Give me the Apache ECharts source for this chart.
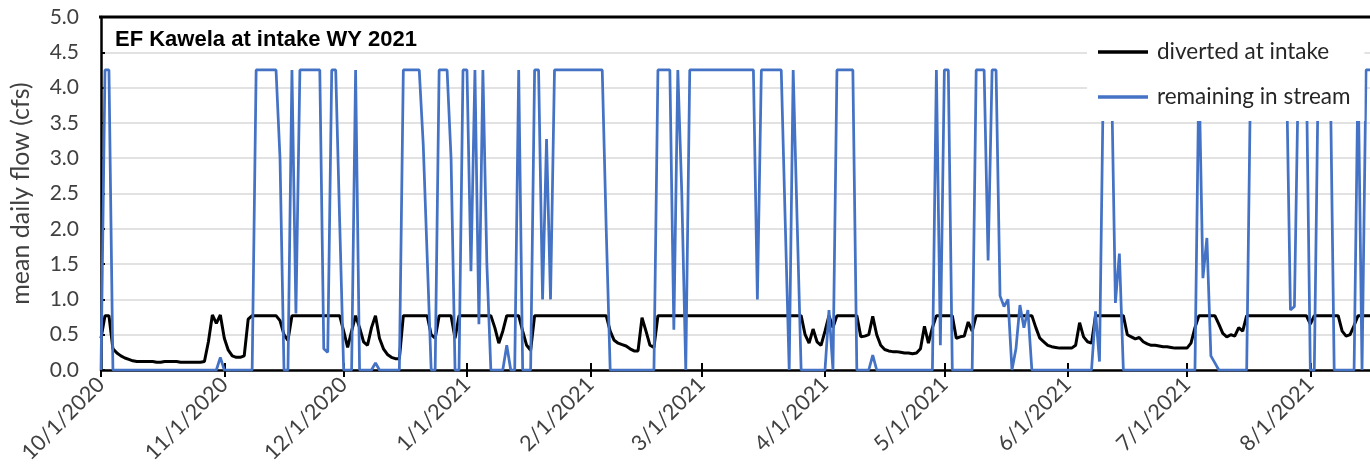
<!DOCTYPE html>
<html>
<head>
<meta charset="utf-8">
<script src="https://cdn.jsdelivr.net/npm/echarts@6/dist/echarts.min.js"></script>
<style>
html,body{margin:0;padding:0;background:#fff;}
#c{width:1370px;height:476px;}
</style>
</head>
<body>
<div id="c"></div>
<script>
const titleText = 'EF Kawela at intake WY 2021';
const yAxisName = 'mean daily flow (cfs)';
const seriesNames = ['diverted at intake', 'remaining in stream'];
const monthTicks = ['10/1/2020','11/1/2020','12/1/2020','1/1/2021','2/1/2021','3/1/2021',
                    '4/1/2021','5/1/2021','6/1/2021','7/1/2021','8/1/2021'];
const firstDay = [2020, 10, 1];   // year, month, day of the first daily value
const dayCount = 320;

// mean daily flow diverted at intake (cfs), one value per day from 10/1/2020
const diverted = [
  0.45,0.77,0.77,0.3,0.24,0.2,0.17,0.15,0.13,0.12,
  0.12,0.12,0.12,0.12,0.11,0.11,0.12,0.12,0.12,0.12,
  0.11,0.11,0.11,0.11,0.11,0.11,0.12,0.4,0.78,0.66,
  0.78,0.45,0.28,0.2,0.18,0.18,0.2,0.72,0.77,0.77,
  0.77,0.77,0.77,0.77,0.77,0.7,0.5,0.42,0.77,0.77,
  0.77,0.77,0.77,0.77,0.77,0.77,0.77,0.77,0.77,0.77,
  0.77,0.55,0.32,0.55,0.77,0.6,0.4,0.35,0.6,0.77,
  0.45,0.3,0.22,0.18,0.16,0.16,0.77,0.77,0.77,0.77,
  0.77,0.77,0.77,0.5,0.45,0.77,0.77,0.77,0.77,0.45,
  0.77,0.77,0.77,0.77,0.77,0.77,0.77,0.77,0.77,0.6,
  0.38,0.55,0.77,0.77,0.77,0.77,0.55,0.35,0.28,0.77,
  0.77,0.77,0.77,0.77,0.77,0.77,0.77,0.77,0.77,0.77,
  0.77,0.77,0.77,0.77,0.77,0.77,0.77,0.77,0.55,0.42,
  0.38,0.36,0.34,0.3,0.27,0.27,0.74,0.55,0.35,0.32,
  0.77,0.77,0.77,0.77,0.77,0.77,0.77,0.77,0.77,0.77,
  0.77,0.77,0.77,0.77,0.77,0.77,0.77,0.77,0.77,0.77,
  0.77,0.77,0.77,0.77,0.77,0.77,0.77,0.77,0.77,0.77,
  0.77,0.77,0.77,0.77,0.77,0.77,0.77,0.5,0.38,0.58,
  0.4,0.35,0.55,0.77,0.6,0.77,0.77,0.77,0.77,0.77,
  0.77,0.47,0.48,0.5,0.76,0.5,0.35,0.29,0.27,0.26,
  0.26,0.25,0.24,0.24,0.23,0.24,0.3,0.62,0.38,0.6,
  0.77,0.77,0.77,0.77,0.77,0.45,0.47,0.48,0.68,0.55,
  0.77,0.77,0.77,0.77,0.77,0.77,0.77,0.77,0.77,0.77,
  0.77,0.77,0.77,0.77,0.77,0.6,0.45,0.4,0.35,0.33,
  0.32,0.31,0.31,0.31,0.31,0.35,0.67,0.47,0.4,0.38,
  0.77,0.77,0.77,0.77,0.77,0.77,0.77,0.77,0.5,0.47,
  0.44,0.46,0.4,0.37,0.35,0.35,0.34,0.33,0.33,0.32,
  0.31,0.31,0.31,0.31,0.38,0.6,0.77,0.77,0.77,0.77,
  0.77,0.65,0.52,0.47,0.5,0.48,0.6,0.55,0.77,0.77,
  0.77,0.77,0.77,0.77,0.77,0.77,0.77,0.77,0.77,0.77,
  0.77,0.77,0.77,0.77,0.65,0.77,0.77,0.77,0.77,0.77,
  0.77,0.77,0.55,0.48,0.5,0.63,0.77,0.77,0.77,0.77
];

// mean daily flow remaining in stream (cfs)
const remaining = [
  0,4.25,4.25,0,0,0,0,0,0,0,
  0,0,0,0,0,0,0,0,0,0,
  0,0,0,0,0,0,0,0,0,0,
  0.18,0,0,0,0,0,0,0,0,4.25,
  4.25,4.25,4.25,4.25,4.25,3.0,0,0,4.25,0.8,
  4.25,4.25,4.25,4.25,4.25,4.25,0.3,0.25,4.25,4.25,
  2.1,0,0,0,4.25,0,0,0,0,0.1,
  0,0,0,0,0,0,4.25,4.25,4.25,4.25,
  4.25,3.2,1.6,0,0,4.25,4.25,4.25,3.0,0,
  0,4.25,4.25,1.4,4.25,0.65,4.25,1.5,0,0,
  0,0,0.35,0,0,4.25,0,0,0,4.25,
  4.25,1.0,3.27,1.0,4.25,4.25,4.25,4.25,4.25,4.25,
  4.25,4.25,4.25,4.25,4.25,4.25,4.25,2.0,0,0,
  0,0,0,0,0,0,0,0,0,0,
  4.25,4.25,4.25,4.25,0.57,4.25,2.5,0,4.25,4.25,
  4.25,4.25,4.25,4.25,4.25,4.25,4.25,4.25,4.25,4.25,
  4.25,4.25,4.25,4.25,4.25,1.0,4.25,4.25,4.25,4.25,
  4.25,4.25,2.1,0,4.25,2.1,0,0,0,0,
  0,0,0,0.85,0,4.25,4.25,4.25,4.25,4.25,
  0,0,0,0,0.21,0,0,0,0,0,
  0,0,0,0,0,0,0,0,0,0,
  4.25,0.35,4.25,4.25,0,0,0,0,0,0,
  4.25,4.25,4.25,1.55,4.25,4.25,1.05,0.9,1.0,0,
  0.3,0.92,0.6,0.85,0,0,0,0,0,0,
  0,0,0,0,0,0,0,0,0,0,
  0.83,0.12,4.25,4.25,4.25,0.95,1.65,0,0,0,
  0,0,0,0,0,0,0,0,0,0,
  0,0,0,0,0,0,4.25,1.3,1.87,0.2,
  0.1,0,0,0,0,0,0,0,0,4.25,
  4.25,4.25,4.25,4.25,4.25,4.25,4.25,4.25,4.25,0.85,
  0.9,4.25,4.25,4.25,0,0,4.25,4.25,4.25,4.25,
  0,0,0,0,0,0,4.25,0,4.25,4.25
];

const categories = [];
for (let i = 0; i < dayCount; i++) {
  const d = new Date(Date.UTC(firstDay[0], firstDay[1] - 1, firstDay[2] + i));
  categories.push((d.getUTCMonth() + 1) + '/' + d.getUTCDate() + '/' + d.getUTCFullYear());
}
const isMonthTick = function (index, value) { return monthTicks.indexOf(value) >= 0; };

const chart = echarts.init(document.getElementById('c'), null, {renderer: 'canvas'});
chart.setOption({
  animation: false,
  backgroundColor: '#ffffff',
  textStyle: {fontFamily: 'Lato'},
  title: {
    text: titleText, left: 115, top: 29, padding: 0,
    textStyle: {fontFamily: 'Liberation Sans', fontWeight: 'bold', fontSize: 22, color: '#000'}
  },
  legend: {
    orient: 'vertical', left: 1087, top: 30,
    backgroundColor: '#ffffff', padding: [10, 14, 12, 11],
    itemWidth: 50, itemHeight: 3.5, itemGap: 21, icon: 'rect',
    textStyle: {fontFamily: 'Lato', fontSize: 22.5, color: '#262626', lineHeight: 24, padding: [0, 0, 0, 4]},
    data: seriesNames
  },
  grid: {
    left: 100, top: 17, width: 1272, height: 353,
    show: false
  },
  graphic: [
    {type: 'line', z: 100, shape: {x1: 99, y1: 17, x2: 1372, y2: 17},
     style: {stroke: '#000', lineWidth: 3}}
  ],
  xAxis: [
    {
      type: 'category', data: categories, boundaryGap: false,
      axisLine: {lineStyle: {color: '#000', width: 2.5}},
      axisTick: {interval: isMonthTick, length: 7, lineStyle: {color: '#000', width: 2}},
      axisLabel: {interval: isMonthTick, rotate: 45, fontSize: 21.5, color: '#404040', margin: 11, fontFamily: 'Lato'},
      splitLine: {show: false}
    },
    {
      type: 'category', data: categories, boundaryGap: false, position: 'bottom',
      axisLine: {show: false},
      axisTick: {interval: isMonthTick, inside: true, length: 7, lineStyle: {color: '#000', width: 2}},
      axisLabel: {show: false},
      splitLine: {show: false}
    }
  ],
  yAxis: {
    type: 'value', min: 0, max: 5, interval: 0.5,
    axisLine: {show: true, lineStyle: {color: '#000', width: 2.5}},
    axisTick: {show: true, inside: true, length: 4, lineStyle: {color: '#000', width: 2}},
    axisLabel: {formatter: function (v) { return v.toFixed(1); }, fontSize: 21, color: '#404040', margin: 22, fontFamily: 'Lato'},
    splitLine: {lineStyle: {color: '#d9d9d9', width: 1.5}},
    name: yAxisName, nameLocation: 'middle', nameGap: 68,
    nameTextStyle: {fontSize: 25, color: '#404040', fontFamily: 'Lato'}
  },
  series: [
    {name: seriesNames[0], type: 'line', data: diverted, showSymbol: false, z: 2,
     lineStyle: {color: '#000', width: 3}, itemStyle: {color: '#000'}},
    {name: seriesNames[1], type: 'line', data: remaining, showSymbol: false, z: 3,
     lineStyle: {color: '#4472C4', width: 2.75}, itemStyle: {color: '#4472C4'}}
  ]
});
</script>
</body>
</html>
